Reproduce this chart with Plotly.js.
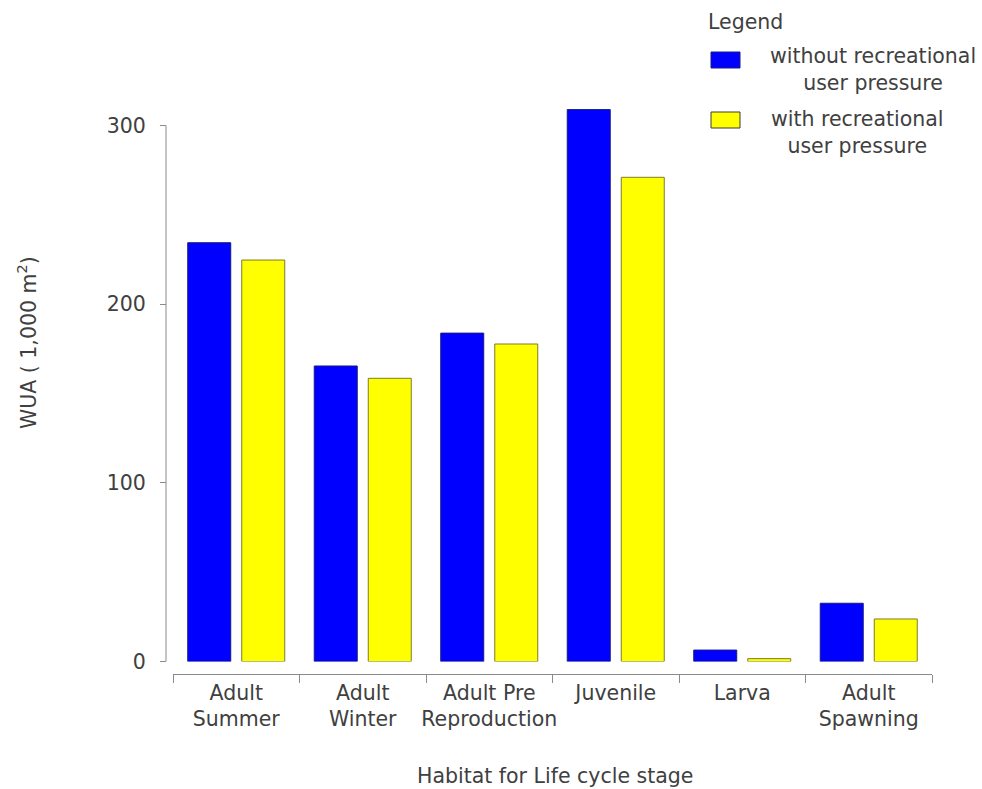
<!DOCTYPE html>
<html>
<head>
<meta charset="utf-8">
<script src="https://cdn.plot.ly/plotly-3.0.1.min.js"></script>
<style>
  html, body { margin: 0; padding: 0; background: #ffffff; }
  #chart { width: 982px; height: 789px; }
</style>
</head>
<body>
<div id="chart"></div>
<script>
// ---- data ----
const categories = [
  "Adult<br>Summer",
  "Adult<br>Winter",
  "Adult Pre<br>Reproduction",
  "Juvenile",
  "Larva",
  "Adult<br>Spawning"
];
const withoutPressure = [234.4, 165.4, 183.8, 308.9, 6.4, 32.6];
const withPressure    = [224.7, 158.5, 177.7, 271.0, 1.6, 23.8];
const seriesNames = ["without recreational<br>user pressure", "with recreational<br>user pressure"];
const yTickValues = [0, 100, 200, 300];
const legendTitle = "Legend";
const xTitle = "Habitat for Life cycle stage";
const yTitle = "WUA ( 1,000 m<sup>2</sup>)";

// ---- layout helpers (pixel -> paper) ----
const W = 982, H = 789;
const M = { l: 166, r: 50, t: 99, b: 115 };
const PW = W - M.l - M.r, PH = H - M.t - M.b;
const px = x => (x - M.l) / PW;
const py = y => (H - M.b - y) / PH;
const Y0PX = 661.5, Y300PX = 125.5;
const yTop = 300 * (Y0PX - M.t) / (Y0PX - Y300PX);

const FONT = "DejaVu Sans, Verdana, sans-serif";
const TXT = "#404040";
const FS = 20.5;
const BLUE = "#0000ff", YELLOW = "#ffff00";
const AXC = "#8a8a8a";

const traces = [
  {
    type: "bar", name: seriesNames[0], x: categories, y: withoutPressure,
    marker: { color: BLUE, line: { color: "#1a1a80", width: 1 } },
    cliponaxis: false, hoverinfo: "x+y"
  },
  {
    type: "bar", name: seriesNames[1], x: categories, y: withPressure,
    marker: { color: YELLOW, line: { color: "#7d7d2a", width: 1 } },
    cliponaxis: false, hoverinfo: "x+y"
  }
];

const layout = {
  width: W, height: H,
  margin: M,
  paper_bgcolor: "#ffffff", plot_bgcolor: "#ffffff",
  showlegend: false,
  barmode: "group",
  bargap: 0.146,
  bargroupgap: 0.204,
  font: { family: FONT, size: FS, color: TXT },
  xaxis: {
    type: "category",
    domain: [px(173), px(932)],
    anchor: "free", position: 0,
    showline: true, linecolor: AXC, linewidth: 1,
    ticks: "outside", tickson: "boundaries", ticklen: 8, tickcolor: AXC,
    tickangle: 0,
    showgrid: false, zeroline: false,
    tickfont: { family: FONT, size: FS, color: TXT },
    fixedrange: true
  },
  yaxis: {
    range: [0, yTop],
    domain: [py(Y0PX), 1],
    anchor: "free", position: 0,
    showline: false,
    ticks: "outside", ticklen: 6, tickcolor: AXC,
    tickvals: yTickValues,
    ticklabelstandoff: 10,
    showgrid: false, zeroline: false,
    tickfont: { family: FONT, size: FS, color: TXT },
    fixedrange: true
  },
  shapes: [
    { type: "line", xref: "paper", yref: "y",
      x0: 0, x1: 0, y0: 0, y1: 300,
      line: { color: AXC, width: 1 } },
    { type: "rect", xref: "paper", yref: "paper",
      x0: px(711), x1: px(740), y0: py(68), y1: py(52),
      fillcolor: BLUE, line: { color: "#1a1a80", width: 1 } },
    { type: "rect", xref: "paper", yref: "paper",
      x0: px(711), x1: px(740), y0: py(128), y1: py(112),
      fillcolor: YELLOW, line: { color: "#3a3a3a", width: 1 } }
  ],
  annotations: [
    { text: legendTitle, xref: "paper", yref: "paper", x: px(706), y: py(22),
      xanchor: "left", yanchor: "middle", showarrow: false,
      font: { family: FONT, size: FS, color: TXT } },
    { text: seriesNames[0], xref: "paper", yref: "paper", x: px(873), y: py(70),
      xanchor: "center", yanchor: "middle", align: "center", showarrow: false,
      font: { family: FONT, size: FS, color: TXT } },
    { text: seriesNames[1], xref: "paper", yref: "paper", x: px(857), y: py(132),
      xanchor: "center", yanchor: "middle", align: "center", showarrow: false,
      font: { family: FONT, size: FS, color: TXT } },
    { text: xTitle, xref: "paper", yref: "paper", x: px(555), y: py(776),
      xanchor: "center", yanchor: "middle", showarrow: false,
      font: { family: FONT, size: FS, color: TXT } },
    { text: yTitle, xref: "paper", yref: "paper", x: px(27), y: py(343),
      xanchor: "center", yanchor: "middle", textangle: -90, showarrow: false,
      font: { family: FONT, size: FS, color: TXT } }
  ]
};

Plotly.newPlot("chart", traces, layout, { displayModeBar: false, staticPlot: true });
</script>
</body>
</html>
